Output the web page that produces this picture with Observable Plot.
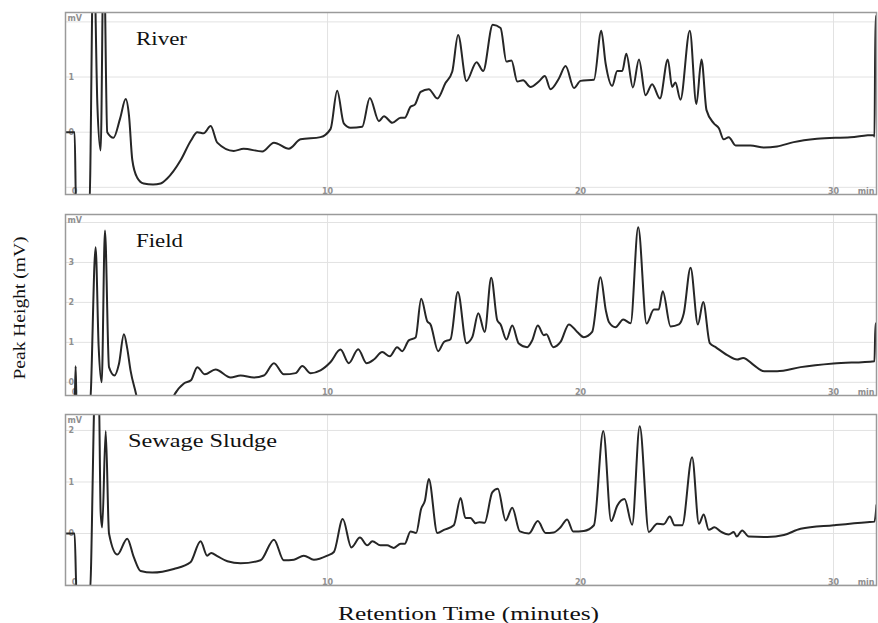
<!DOCTYPE html>
<html>
<head>
<meta charset="utf-8">
<script src="https://cdn.jsdelivr.net/npm/d3@7"></script>
<script src="https://cdn.jsdelivr.net/npm/@observablehq/plot@0.6"></script>
<style>
  html, body { margin: 0; padding: 0; background: #fff; }
  #wrap { position: relative; width: 878px; height: 623px; background: #fff; overflow: hidden; }
  #wrap > svg.panel { position: absolute; left: 0; }
  #overlay { position: absolute; left: 0; top: 0; pointer-events: none; }
</style>
</head>
<body>
<div id="wrap"></div>
<script>
// ---------- data ----------
const panelTitles = ["River", "Field", "Sewage Sludge"];
const xAxisTitle = "Retention Time (minutes)";
const yAxisTitle = "Peak Height (mV)";
const xTickValues = [0, 10, 20, 30];
const xGridValues = [10, 20, 30];
const unitLabelY = "mV";
const unitLabelX = "min";

const riverTime = [-0.36,0.0,0.06,0.58,0.75,0.9,1.03,1.15,1.29,1.54,1.8,2.02,2.15,2.28,2.47,2.73,3.1,3.4,3.66,4.19,4.6,4.85,5.1,5.38,5.64,6.29,6.68,7.42,7.88,8.47,8.93,9.72,10.12,10.38,10.64,10.91,11.37,11.67,12.03,12.23,12.56,12.89,13.05,13.28,13.45,13.68,14.0,14.34,14.66,14.93,15.16,15.49,15.89,16.15,16.53,16.84,17.07,17.27,17.5,17.73,18.02,18.35,18.59,18.81,19.14,19.41,19.74,20.0,20.53,20.82,20.99,21.25,21.45,21.65,21.81,22.07,22.31,22.57,22.83,23.14,23.45,23.62,23.75,23.95,24.32,24.58,24.78,24.98,25.27,25.47,25.66,25.86,26.13,26.72,27.25,27.77,28.43,29.35,30.67,31.59,31.62,31.66,31.7];
const riverSignal = [0,0,-1.4,-1.4,3.5,0.5,-0.33,3.5,0,-0.1,0.25,0.6,0.3,-0.5,-0.82,-0.93,-0.95,-0.93,-0.84,-0.51,-0.15,0,-0.02,0.11,-0.19,-0.34,-0.3,-0.35,-0.19,-0.3,-0.13,-0.09,0.06,0.75,0.16,0.08,0.1,0.62,0.2,0.29,0.17,0.26,0.26,0.46,0.5,0.73,0.78,0.61,0.89,1.1,1.76,0.93,1.27,1.11,1.95,1.89,1.28,1.3,0.92,0.94,0.82,0.92,1.02,0.78,0.97,1.2,0.8,0.93,0.95,1.84,1.25,0.84,1.11,1.11,1.42,0.81,1.32,0.67,0.87,0.61,1.32,0.82,0.9,0.59,1.84,0.51,1.32,0.4,0.16,0.07,-0.13,-0.09,-0.24,-0.24,-0.28,-0.26,-0.18,-0.12,-0.09,-0.05,-0.08,2.1,2.1];

const fieldTime = [-0.36,0.0,0.04,0.08,0.6,0.83,0.95,1.07,1.2,1.36,1.58,1.75,1.95,2.08,2.21,2.41,2.6,3.2,3.75,3.93,4.32,4.6,4.85,5.15,5.57,6.17,6.56,7.09,7.48,7.88,8.27,8.74,9.0,9.33,9.72,10.12,10.51,10.84,11.21,11.54,11.83,12.16,12.46,12.75,12.95,13.21,13.48,13.7,13.94,14.07,14.37,14.6,14.86,15.15,15.49,15.72,15.96,16.21,16.47,16.71,16.84,17.07,17.3,17.56,17.89,18.09,18.31,18.55,18.65,18.92,19.21,19.54,19.87,20.13,20.46,20.79,21.0,21.12,21.38,21.69,21.98,22.28,22.61,22.9,23.09,23.25,23.56,23.89,24.08,24.35,24.64,24.85,25.11,25.34,25.8,26.19,26.43,26.85,27.25,27.77,28.7,30.0,31.62,31.66,31.7];
const fieldSignal = [-0.6,-0.6,0.4,-0.6,-0.6,3.38,0.9,0.0,3.8,0.38,0.17,0.45,1.2,0.85,0.3,-0.24,-0.7,-0.9,-0.6,-0.33,-0.03,0.05,0.38,0.2,0.32,0.12,0.17,0.12,0.17,0.48,0.2,0.23,0.41,0.23,0.3,0.51,0.82,0.48,0.83,0.48,0.57,0.76,0.65,0.88,0.78,1.05,1.12,2.09,1.53,1.45,0.78,1.01,1.08,2.26,0.98,1.13,1.73,1.26,2.62,1.55,1.45,1.07,1.42,0.97,0.88,1.05,1.42,1.18,1.2,0.88,1.01,1.45,1.26,1.13,1.26,2.63,1.8,1.51,1.38,1.57,1.48,3.88,1.47,1.82,1.82,2.28,1.4,1.45,1.72,2.87,1.45,2.01,0.98,0.88,0.68,0.57,0.61,0.43,0.28,0.28,0.38,0.47,0.53,1.47,1.47];

const sludgeTime = [-0.36,0.0,0.08,0.6,0.82,0.95,1.03,1.09,1.23,1.36,1.69,2.08,2.34,2.61,3.07,3.92,4.58,4.98,5.24,5.4,5.64,6.04,6.56,7.35,7.88,8.27,8.67,9.06,9.46,9.99,10.25,10.6,10.94,11.28,11.57,11.77,12.09,12.35,12.62,12.89,13.05,13.28,13.5,13.7,13.85,14.0,14.34,14.6,14.99,15.26,15.45,15.65,15.85,16.0,16.21,16.51,16.73,17.04,17.3,17.6,17.96,18.31,18.62,18.94,19.21,19.47,19.71,20.13,20.53,20.9,21.21,21.45,21.74,22.04,22.34,22.7,23.03,23.29,23.53,23.72,24.02,24.41,24.68,24.87,25.07,25.3,25.53,25.86,26.06,26.17,26.39,26.65,27.38,28.04,28.7,30.01,31.33,31.62,31.7];
const sludgeSignal = [0,0,-1.2,-1.2,3,3,0.41,0.12,1.99,0,-0.41,-0.1,-0.46,-0.73,-0.76,-0.69,-0.56,-0.15,-0.43,-0.38,-0.44,-0.54,-0.58,-0.52,-0.12,-0.52,-0.51,-0.43,-0.51,-0.43,-0.36,0.28,-0.27,-0.08,-0.23,-0.15,-0.23,-0.23,-0.28,-0.2,-0.2,0.04,0.01,0.48,0.64,1.06,0.01,0.07,0.16,0.69,0.3,0.3,0.2,0.22,0.21,0.8,0.87,0.25,0.5,0.04,0,0.24,0.01,0.02,0.12,0.27,0.04,0.05,0.16,1.99,0.24,0.54,0.67,0.17,2.08,0.03,0.19,0.18,0.33,0.16,0.16,1.48,0.19,0.37,0.07,0.12,0.04,-0.02,0.03,-0.06,0.06,-0.06,-0.07,-0.03,0.09,0.16,0.22,0.23,0.55];

const riverGrid = [-1, 0, 1, 2];
const riverTickLabels = [0, 1];
const fieldGrid = [0, 1, 2, 3, 4];
const fieldTickLabels = [0, 1, 2, 3];
const sludgeGrid = [-1, 0, 1, 2];
const sludgeTickLabels = [0, 1, 2];

// ---------- layout ----------
const W = 878, H = 623;
const xDomain = [-0.36, 31.7];
const panels = [
  {title: panelTitles[0], time: riverTime, signal: riverSignal, grid: riverGrid, labels: riverTickLabels,
   top: 0, height: 196, mt: 12, mb: 2, ydom: [-1.13, 2.17], tx: 136, ty: 44.5, tw: 51},
  {title: panelTitles[1], time: fieldTime, signal: fieldSignal, grid: fieldGrid, labels: fieldTickLabels,
   top: 200, height: 197, mt: 14, mb: 2, ydom: [-0.33, 4.2], tx: 136, ty: 246.5, tw: 47},
  {title: panelTitles[2], time: sludgeTime, signal: sludgeSignal, grid: sludgeGrid, labels: sludgeTickLabels,
   top: 400, height: 187, mt: 14, mb: 2, ydom: [-1.01, 2.31], tx: 128, ty: 446.5, tw: 149}
];

const wrap = document.getElementById("wrap");
const tickColor = "#8f8f8f";
const tickFont = {fill: tickColor, fontSize: 8, fontFamily: "DejaVu Sans", fontWeight: "bold"};

for (const p of panels) {
  const data = p.time.map((t, i) => ({t, v: p.signal[i]}));
  const chart = Plot.plot({
    width: W, height: p.height,
    marginLeft: 65, marginRight: 2, marginTop: p.mt, marginBottom: p.mb,
    x: {domain: xDomain, axis: null},
    y: {domain: p.ydom, axis: null},
    style: {background: "transparent", overflow: "visible"},
    marks: [
      Plot.ruleY(p.grid, {stroke: "#e2e2e2", strokeWidth: 1, clip: true}),
      Plot.ruleX(xGridValues, {stroke: "#e2e2e2", strokeWidth: 1}),
      Plot.text(p.labels, {y: d => d, text: d => String(d), frameAnchor: "left", textAnchor: "start",
        dx: 3, ...tickFont}),
      Plot.text([unitLabelY], {frameAnchor: "top-left", textAnchor: "start", dx: 2, dy: 2.5, ...tickFont}),
      Plot.text(xTickValues, {x: d => d, text: d => String(d), frameAnchor: "bottom", dy: -1, ...tickFont}),
      Plot.text([unitLabelX], {frameAnchor: "bottom-right", textAnchor: "end", dx: -2, dy: -1, ...tickFont}),
      Plot.line(data, {x: "t", y: "v", stroke: "#262626", strokeWidth: 2, curve: "monotone-x", clip: true}),
      Plot.frame({stroke: "#9a9a9a", strokeWidth: 1.5})
    ]
  });
  chart.classList.add("panel");
  chart.style.top = p.top + "px";
  wrap.appendChild(chart);
}

// ---------- overlay texts (titles and axis titles) ----------
const ns = "http://www.w3.org/2000/svg";
const ov = document.createElementNS(ns, "svg");
ov.setAttribute("id", "overlay");
ov.setAttribute("width", W);
ov.setAttribute("height", H);
function addText(str, attrs) {
  const t = document.createElementNS(ns, "text");
  for (const k in attrs) t.setAttribute(k, attrs[k]);
  t.setAttribute("font-family", "Liberation Serif, Times New Roman, serif");
  t.setAttribute("fill", "#111");
  t.setAttribute("lengthAdjust", "spacingAndGlyphs");
  t.textContent = str;
  ov.appendChild(t);
  return t;
}
for (const p of panels) {
  addText(p.title, {x: p.tx, y: p.ty, "font-size": 18, textLength: p.tw});
}
addText(xAxisTitle, {x: 338, y: 619.5, "font-size": 19.5, textLength: 261});
addText(yAxisTitle, {transform: "translate(25,308) rotate(-90)", "text-anchor": "middle", "font-size": 17.5, textLength: 143});
wrap.appendChild(ov);
</script>
</body>
</html>
